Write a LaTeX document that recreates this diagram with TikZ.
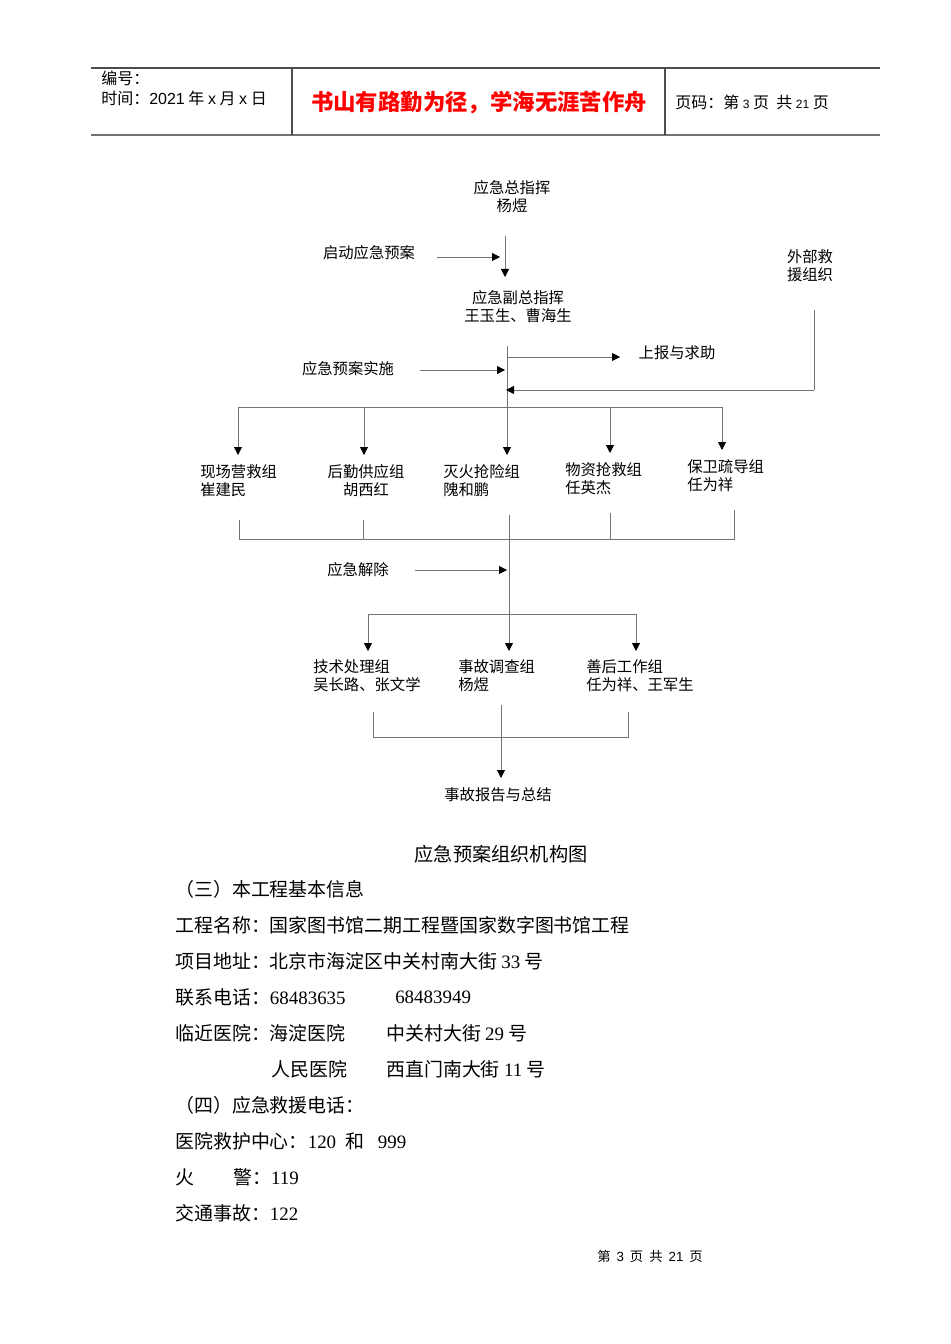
\documentclass[tikz,border=0pt]{standalone}
\usepackage{fontspec}
\setmainfont{Liberation Serif}
\newfontfamily\cjk{Noto Sans CJK SC}
\newfontfamily\hd{Liberation Sans}
\usetikzlibrary{arrows.meta}
\begin{document}
\begin{tikzpicture}[x=0.75pt,y=-0.75pt,
  ln/.style={draw=black!55,line width=0.6pt},
  arr/.style={ln,-{Triangle[length=6pt,width=6pt,black]}},
  fc/.style={font=\cjk\fontsize{11.5pt}{13.5pt}\selectfont,inner sep=0pt,align=left},
  fcc/.style={fc,align=center},
  bd/.style={font=\cjk\fontsize{14.2pt}{16pt}\selectfont,inner sep=0pt,anchor=west}]
\useasboundingbox (0,0) rectangle (950,1344);
% header
\draw[black!70,line width=0.8pt] (91,68) -- (880,68);
\draw[black!55,line width=1.6pt] (91,135) -- (880,135);
\draw[black!70,line width=0.8pt] (292,68) -- (292,135) (665,68) -- (665,135);
\node[font=\cjk\fontsize{12pt}{14.5pt}\selectfont,anchor=north west,inner sep=0pt,align=left] (h1) at (101,71) {编号：\\时间：{\hd 2021} 年 {\hd x} 月 {\hd x} 日};
\node[font=\cjk\bfseries\fontsize{16.8pt}{19pt}\selectfont,text=red,inner sep=0pt] (h2) at (479,103) {书山有路勤为径，学海无涯苦作舟};
\node[font=\cjk\fontsize{12pt}{14pt}\selectfont,anchor=west,inner sep=0pt] (h3) at (675,102) {页码：第 {\hd\small 3} 页\ \ 共 {\hd\small 21} 页};
% flowchart nodes
\node[fcc] (zz) at (512,197) {应急总指挥\\杨煜};
\node[fcc] (qd) at (369,253) {启动应急预案};
\node[fcc] (wb) at (810,266) {外部救\\援组织};
\node[fcc] (fz) at (518,307) {应急副总指挥\\王玉生、曹海生};
\node[fcc] (sb) at (677,353) {上报与求助};
\node[fcc] (ss) at (348,369) {应急预案实施};
\node[fc,anchor=west] (g1) at (200,481) {现场营救组\\崔建民};
\node[fcc] (g2) at (366,481) {后勤供应组\\胡西红};
\node[fc,anchor=west] (g3) at (443,481) {灭火抢险组\\隗和鹏};
\node[fc,anchor=west] (g4) at (565,479) {物资抢救组\\任英杰};
\node[fc,anchor=west] (g5) at (687,476) {保卫疏导组\\任为祥};
\node[fcc] (jc) at (358,570) {应急解除};
\node[fc,anchor=west] (t1) at (313,676) {技术处理组\\吴长路、张文学};
\node[fc,anchor=west] (t2) at (458,676) {事故调查组\\杨煜};
\node[fc,anchor=west] (t3) at (586,676) {善后工作组\\任为祥、王军生};
\node[fcc] (bg) at (498,795) {事故报告与总结};
% coordinates
\coordinate (a0) at (505,236); \coordinate (a1) at (505,277);
\coordinate (q0) at (437,257); \coordinate (q1) at (500,257);
\coordinate (b0) at (507,346); \coordinate (b1) at (507,455);
\coordinate (s0) at (507,357); \coordinate (s1) at (620,357);
\coordinate (p0) at (420,370); \coordinate (p1) at (505,370);
\coordinate (w0) at (814,310); \coordinate (w1) at (814,390); \coordinate (w2) at (506,390);
\draw[arr] (a0) -- (a1);
\draw[arr] (q0) -- (q1);
\draw[arr] (b0) -- (b1);
\draw[arr] (s0) -- (s1);
\draw[arr] (p0) -- (p1);
\draw[ln] (w0) -- (w1); \draw[arr] (w1) -- (w2);
\draw[ln] (238,407) -- (722,407);
\foreach \x/\e in {238/455,364/455,610/453,722/450}{\draw[arr] (\x,407) -- (\x,\e);}
% collectors
\draw[ln] (239,520) -- (239,539) -- (734,539) -- (734,510);
\draw[ln] (363,520) -- (363,539);
\draw[ln] (610,513) -- (610,539);
\draw[ln] (509,515) -- (509,614);
\coordinate (c0) at (509,614); \coordinate (c1) at (509,651);
\draw[arr] (c0) -- (c1);
\coordinate (j0) at (415,570); \coordinate (j1) at (507,570);
\draw[arr] (j0) -- (j1);
\draw[ln] (368,614) -- (636,614);
\draw[arr] (368,614) -- (368,651);
\draw[arr] (636,614) -- (636,651);
\draw[ln] (373,712) -- (373,737) -- (628,737) -- (628,712);
\coordinate (r0) at (501,705); \coordinate (r1) at (501,778);
\draw[arr] (r0) -- (r1);
% caption and body
\node[font=\cjk\fontsize{14.4pt}{16pt}\selectfont,inner sep=0pt] (cap) at (501,854) {应急预案组织机构图};
\node[bd] (l1) at (175,889) {（三）本工程基本信息};
\node[bd] (l2) at (175,925) {工程名称：国家图书馆二期工程暨国家数字图书馆工程};
\node[bd] (l3) at (175,961) {项目地址：北京市海淀区中关村南大街 {\rmfamily 33} 号};
\node[bd] (l4) at (175,997) {联系电话：{\rmfamily 68483635}};
\node[bd,font=\rmfamily\fontsize{14.2pt}{16pt}\selectfont] (l4b) at (395,997) {68483949};
\node[bd] (l5) at (175,1033) {临近医院：海淀医院};
\node[bd] (l5b) at (386,1033) {中关村大街 {\rmfamily 29} 号};
\node[bd] (l6) at (271,1069) {人民医院};
\node[bd] (l6b) at (386,1069) {西直门南大街 {\rmfamily 11} 号};
\node[bd] (l7) at (175,1105) {（四）应急救援电话：};
\node[bd] (l8) at (175,1141) {医院救护中心：{\rmfamily 120\ \ }和\ \ {\rmfamily\ 999}};
\node[bd] (l9) at (175,1177) {火};
\node[bd] (l9b) at (233,1177) {警：{\rmfamily 119}};
\node[bd] (l10) at (175,1213) {交通事故：{\rmfamily 122}};
\node[font=\cjk\fontsize{10pt}{11pt}\selectfont,inner sep=0pt] (ft) at (650,1256) {第\ \ {\hd 3}\ \ 页\ \ 共\ \ {\hd 21}\ \ 页};
\end{tikzpicture}
\end{document}
